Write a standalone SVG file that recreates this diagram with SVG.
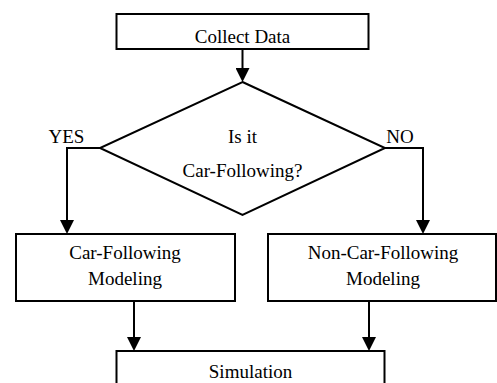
<svg xmlns="http://www.w3.org/2000/svg" width="497" height="383" viewBox="0 0 497 383">
  <style>
    .box { fill: #ffffff; stroke: #000000; stroke-width: 2; }
    .edge { fill: none; stroke: #000000; stroke-width: 2; }
    .label { font-size: 19px; fill: #000000; text-anchor: middle; }
  </style>
  <defs>
    <marker id="arrow" markerUnits="userSpaceOnUse" markerWidth="14" markerHeight="14" viewBox="0 0 14 14" refX="0" refY="7" orient="auto">
      <path d="M0,0 L14,7 L0,14 Z" fill="#000000"/>
    </marker>
  </defs>
  <rect width="497" height="383" fill="#ffffff"/>

  <g font-family="Liberation Serif, Tinos, Times New Roman, DejaVu Serif, serif">
    <g id="collect-data">
      <rect class="box" x="116.5" y="14" width="252" height="35"/>
      <text class="label" x="242.5" y="43">Collect Data</text>
    </g>

    <g id="decision">
      <polygon class="box" points="242.5,82 385,148 242.5,215 100,148"/>
      <text class="label" x="242.5" y="143">Is it</text>
      <text class="label" x="242.5" y="177">Car-Following?</text>
    </g>

    <g id="car-following">
      <rect class="box" x="16" y="234" width="219" height="67"/>
      <text class="label" x="125" y="259">Car-Following</text>
      <text class="label" x="125" y="285">Modeling</text>
    </g>

    <g id="non-car-following">
      <rect class="box" x="268" y="234" width="228" height="67"/>
      <text class="label" x="383" y="259">Non-Car-Following</text>
      <text class="label" x="383" y="285">Modeling</text>
    </g>

    <g id="simulation">
      <rect class="box" x="116.5" y="351" width="268" height="50"/>
      <text class="label" x="250.5" y="378">Simulation</text>
    </g>

    <g id="connectors">
      <path class="edge" d="M242.5,49 V68" marker-end="url(#arrow)"/>
      <path class="edge" d="M100,148 H67 V220" marker-end="url(#arrow)"/>
      <path class="edge" d="M385,148 H423 V220" marker-end="url(#arrow)"/>
      <path class="edge" d="M134,301 V337" marker-end="url(#arrow)"/>
      <path class="edge" d="M369,301 V337" marker-end="url(#arrow)"/>
      <text class="label" x="66.5" y="143">YES</text>
      <text class="label" x="400" y="143">NO</text>
    </g>
  </g>
</svg>
